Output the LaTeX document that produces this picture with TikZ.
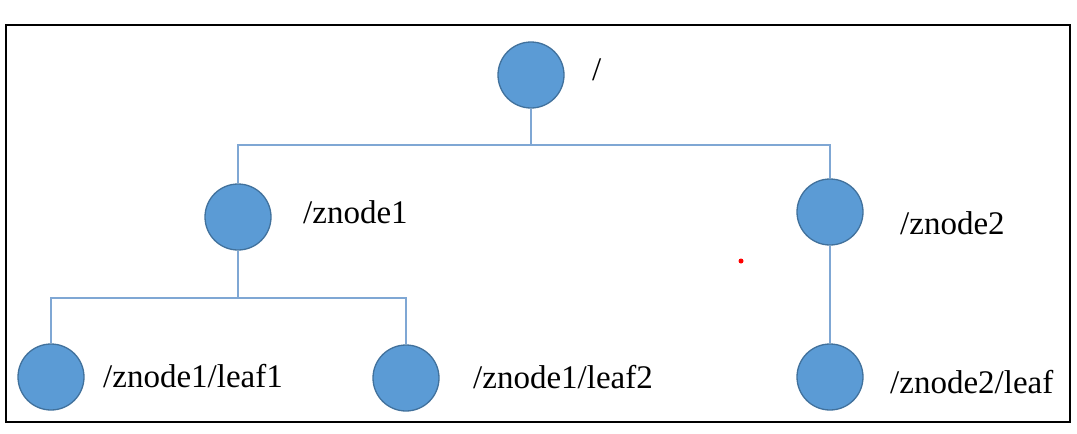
\documentclass[tikz,border=0pt]{standalone}
\usepackage{fontspec}
\setmainfont{Liberation Serif}
\definecolor{nodefill}{HTML}{5B9BD5}
\definecolor{nodeline}{HTML}{41719C}
\definecolor{wire}{HTML}{7FA7D4}
\tikzset{
  znode/.style={circle, fill=nodefill, draw=nodeline, line width=1.3pt, minimum size=66pt, inner sep=0pt},
  zlabel/.style={anchor=base west, inner sep=0pt, font=\fontsize{33}{39}\selectfont},
  wire/.style={draw=wire, line width=1.2pt}
}
\begin{document}
\begin{tikzpicture}[x=1pt, y=-1pt]
\useasboundingbox (0,0) rectangle (1077,434);
\draw[line width=2pt](6,25) rectangle (1070,422);
% nodes of the tree
\node[znode] (root) at (531,75) {};
\node[znode] (z1) at (238,217) {};
\node[znode] (z2) at (830,212) {};
\node[znode] (leaf1) at (51,377) {};
\node[znode] (leaf2) at (406,378) {};
\node[znode] (leaf3) at (830,377) {};
% names
\node[zlabel] (lroot) at (592,80) {/};
\node[zlabel] (lz1) at (303,223) {/znode1};
\node[zlabel] (lz2) at (900,234) {/znode2};
\node[zlabel] (lleaf1) at (103,387) {/znode1/leaf1};
\node[zlabel] (lleaf2) at (473,388) {/znode1/leaf2};
\node[zlabel] (lleaf3) at (890,393) {/znode2/leaf};
% connectors
\coordinate (bus0) at (531,145);
\coordinate (bus1) at (238,298);
\draw[wire](root) -- (bus0) -| (z1);
\draw[wire](bus0) -| (z2);
\draw[wire](z1) -- (bus1) -| (leaf1);
\draw[wire](bus1) -| (leaf2);
\draw[wire](z2) -- (leaf3);
\fill[red](741,261) circle (2.5);
\end{tikzpicture}
\end{document}
